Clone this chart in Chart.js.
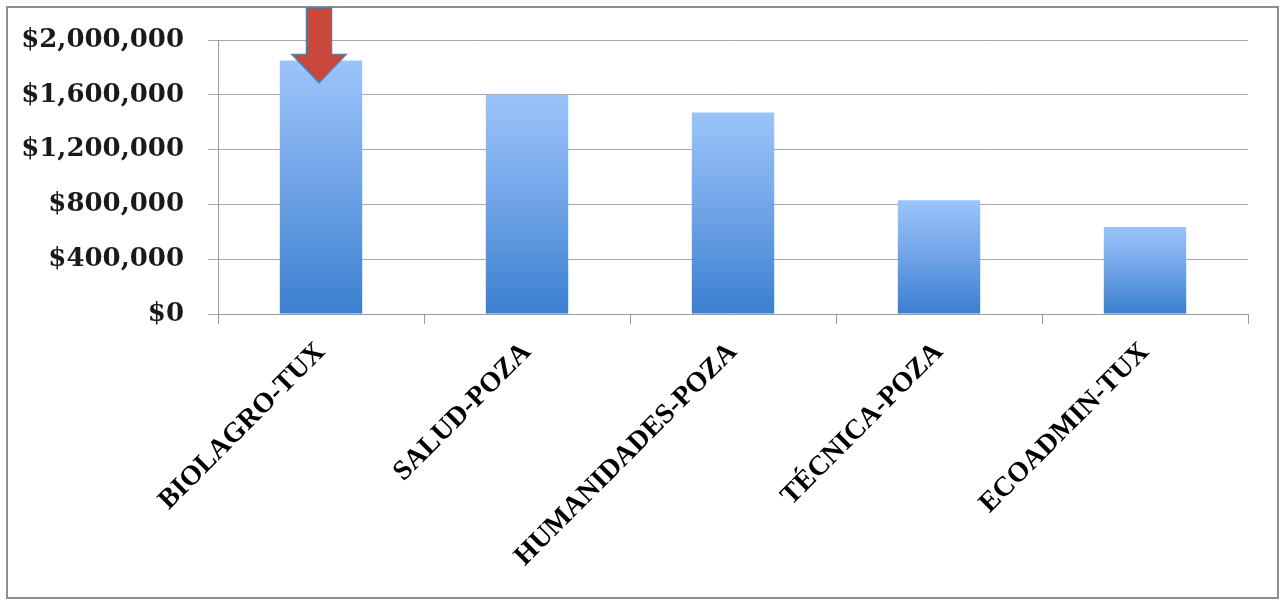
<!DOCTYPE html>
<html>
<head>
<meta charset="utf-8">
<script src="https://cdn.jsdelivr.net/npm/chart.js@4.4.1/dist/chart.umd.min.js"></script>
<style>
    html, body { margin: 0; padding: 0; background: #ffffff; }
    #wrap { width: 1283px; height: 601px; position: relative; }
</style>
</head>
<body>
<div id="wrap"><canvas id="costChart"></canvas></div>
<script>
// Chart data
const categories = ["BIOLAGRO-TUX", "SALUD-POZA", "HUMANIDADES-POZA", "TÉCNICA-POZA", "ECOADMIN-TUX"];
const amounts = [1850000, 1600000, 1470000, 830000, 635000];
const yTicks = [0, 400000, 800000, 1200000, 1600000, 2000000];

function money(v) {
    return '$' + v.toLocaleString('en-US');
}

// Vertical gradient per bar, light on top, darker at the base
function barGradient(context) {
    const chart = context.chart;
    const y = chart.scales.y;
    if (!chart.chartArea || !y || context.raw === undefined) return '#6fa3ea';
    const top = y.getPixelForValue(context.raw);
    const base = y.getPixelForValue(0);
    if (!isFinite(top) || !isFinite(base)) return '#6fa3ea';
    const g = chart.ctx.createLinearGradient(0, top, 0, base);
    g.addColorStop(0, '#9cc4fb');
    g.addColorStop(0.5, '#6fa3e6');
    g.addColorStop(1, '#3a7fd0');
    return g;
}

// Outer grey frame
const framePlugin = {
    id: 'frame',
    beforeDraw(chart) {
        const ctx = chart.ctx;
        ctx.save();
        ctx.fillStyle = '#ffffff';
        ctx.fillRect(0, 0, chart.width, chart.height);
        ctx.strokeStyle = '#8e8e8e';
        ctx.lineWidth = 2;
        ctx.strokeRect(7, 7, 1271, 591);
        ctx.restore();
    }
};

// Red arrow pointing at the first bar
const arrowPlugin = {
    id: 'arrow',
    afterDatasetsDraw(chart) {
        const bar = chart.getDatasetMeta(0).data[0];
        if (!bar) return;
        const ctx = chart.ctx;
        const cx = bar.x - 2;
        const tip = bar.y + 22;
        const headTop = bar.y - 6;
        const shaftTop = 8;
        const sw = 12.5, hw = 27;
        ctx.save();
        ctx.beginPath();
        ctx.moveTo(cx - sw, shaftTop);
        ctx.lineTo(cx + sw, shaftTop);
        ctx.lineTo(cx + sw, headTop);
        ctx.lineTo(cx + hw, headTop);
        ctx.lineTo(cx, tip);
        ctx.lineTo(cx - hw, headTop);
        ctx.lineTo(cx - sw, headTop);
        ctx.closePath();
        ctx.fillStyle = '#c9473b';
        ctx.fill();
        ctx.strokeStyle = '#5a7aa6';
        ctx.lineWidth = 1.5;
        ctx.lineJoin = 'miter';
        ctx.stroke();
        ctx.restore();
    }
};

const ctx = document.getElementById('costChart').getContext('2d');
new Chart(ctx, {
    type: 'bar',
    data: {
        labels: categories,
        datasets: [{
            data: amounts,
            backgroundColor: barGradient,
            borderWidth: 0,
            barPercentage: 0.8,
            categoryPercentage: 0.5
        }]
    },
    options: {
        responsive: true,
        maintainAspectRatio: false,
        animation: false,
        layout: { padding: { left: 0, top: 40, right: 35, bottom: 0 } },
        plugins: {
            legend: { display: false },
            tooltip: { enabled: false }
        },
        scales: {
            x: {
                afterFit(scale) { scale.height = 287; },
                grid: {
                    display: true,
                    offset: true,
                    drawOnChartArea: false,
                    drawTicks: true,
                    tickLength: 10,
                    color: '#9a9a9a'
                },
                border: { display: true, color: '#9a9a9a', width: 1 },
                ticks: {
                    maxRotation: 45,
                    minRotation: 45,
                    autoSkip: false,
                    padding: 12,
                    color: '#000000',
                    font: { family: 'Liberation Serif', weight: 'bold', size: 28 }
                }
            },
            y: {
                min: 0,
                max: 2000000,
                afterFit(scale) { scale.width = 218; },
                afterBuildTicks(scale) { scale.ticks = yTicks.map(v => ({ value: v })); },
                grid: {
                    color: '#a8a8a8',
                    tickLength: 10,
                    drawTicks: true
                },
                border: { display: true, color: '#9a9a9a', width: 1 },
                ticks: {
                    padding: 24,
                    color: '#1a1a1a',
                    callback: v => money(v),
                    font: { family: 'DejaVu Serif', weight: 'bold', size: 26 }
                }
            }
        }
    },
    plugins: [framePlugin, arrowPlugin]
});
</script>
</body>
</html>
